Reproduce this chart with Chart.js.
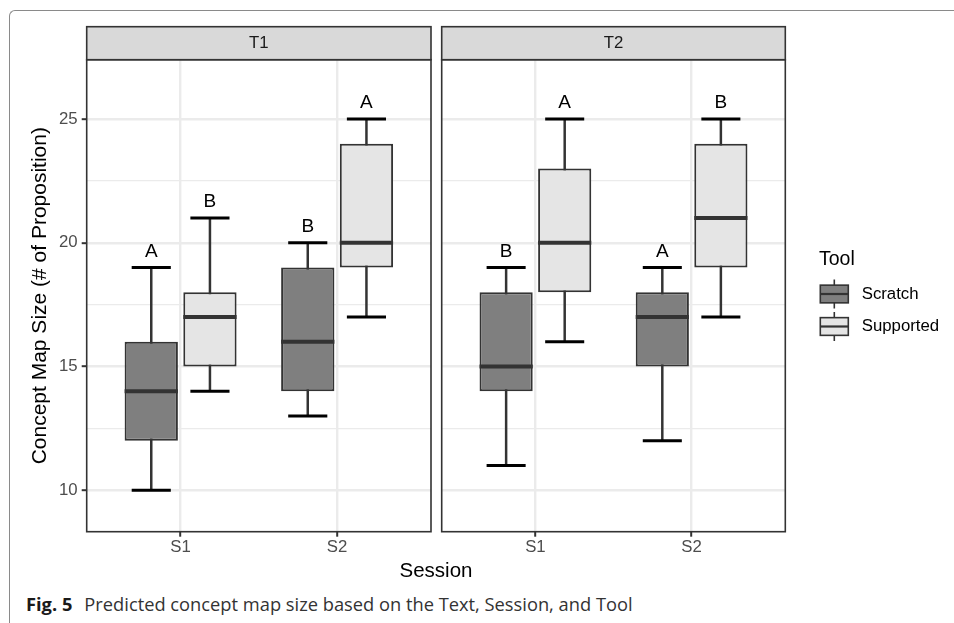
<!DOCTYPE html>
<html>
<head>
<meta charset="utf-8">
<script src="https://cdn.jsdelivr.net/npm/chart.js@4.4.1/dist/chart.umd.min.js"></script>
<style>
  html, body { margin: 0; padding: 0; background: #fff; overflow: hidden; }
  body { width: 954px; height: 623px; position: relative; font-family: "Liberation Sans", Arial, sans-serif; }
  .frame { position: absolute; left: 9px; top: 10px; width: 980px; height: 640px; border-top: 1px solid #8a8a8a; border-left: 1px solid #8a8a8a; border-top-left-radius: 6px; }
  #panelT1 { position: absolute; left: 0; top: 0; }
  #panelT2 { position: absolute; left: 436px; top: 0; }
  .xtitle { position: absolute; left: 336px; width: 200px; top: 560px; text-align: center; font-size: 20.5px; line-height: 20.5px; color: #000; }
  .caption { position: absolute; left: 26px; top: 595px; font-family: "Open Sans", sans-serif; font-size: 18.3px; line-height: 18px; color: #333; white-space: nowrap; }
  .caption b { color: #1a1a1a; margin-right: 12px; }
</style>
</head>
<body>
<div class="frame"></div>
<canvas id="panelT1" width="436" height="590"></canvas>
<canvas id="panelT2" width="518" height="590"></canvas>
<div class="xtitle">Session</div>
<div class="caption"><b>Fig. 5</b>Predicted concept map size based on the Text, Session, and Tool</div>
<script>
const texts = ["T1", "T2"];
const sessions = ["S1", "S2"];
const tools = ["Scratch", "Supported"];
const toolColors = ["#7f7f7f", "#e5e5e5"];

// per session: [min, q1, median, q3, max]
const t1Scratch = [[10, 12, 14, 16, 19], [13, 14, 16, 19, 20]];
const t1Supported = [[14, 15, 17, 18, 21], [17, 19, 20, 24, 25]];
const t2Scratch = [[11, 14, 15, 18, 19], [12, 15, 17, 18, 19]];
const t2Supported = [[16, 18, 20, 23, 25], [17, 19, 21, 24, 25]];

// letters above the boxes
const t1ScratchLetters = ["A", "B"];
const t1SupportedLetters = ["B", "A"];
const t2ScratchLetters = ["B", "A"];
const t2SupportedLetters = ["A", "B"];

const yMajorTicks = [10, 15, 20, 25];
const yMinorTicks = [12.5, 17.5, 22.5];
const yLimits = [8.33, 27.4];

const font = "'Liberation Sans', Arial, sans-serif";
const dodge = [-0.1875, 0.1875];
const capWidth = 0.25;

function boxDataset(i, stats, letters) {
  return {
    label: tools[i],
    data: stats.map((s, j) => ({ x: j + 1 + dodge[i], y: [s[1], s[3]] })),
    stats: stats,
    letters: letters,
    backgroundColor: toolColors[i],
    borderColor: "#333333",
    borderWidth: 2,
    borderSkipped: false,
    grouped: false,
    categoryPercentage: 1,
    barPercentage: 0.908,
  };
}

const boxPlugin = {
  id: "boxParts",
  beforeDatasetsDraw(chart) {
    const { ctx, scales: { x, y } } = chart;
    const half = x.getPixelForValue(1 + capWidth / 2) - x.getPixelForValue(1);
    ctx.save();
    chart.data.datasets.forEach((ds, d) => {
      chart.getDatasetMeta(d).data.forEach((bar, j) => {
        const s = ds.stats[j];
        const cx = bar.x;
        ctx.strokeStyle = "#333333";
        ctx.lineWidth = 2.5;
        ctx.beginPath();
        ctx.moveTo(cx, y.getPixelForValue(s[0]));
        ctx.lineTo(cx, y.getPixelForValue(s[4]));
        ctx.stroke();
        ctx.strokeStyle = "#000000";
        ctx.lineWidth = 3;
        [s[0], s[4]].forEach((v) => {
          const py = y.getPixelForValue(v);
          ctx.beginPath();
          ctx.moveTo(cx - half, py);
          ctx.lineTo(cx + half, py);
          ctx.stroke();
        });
      });
    });
    ctx.restore();
  },
  afterDatasetsDraw(chart, args, opts) {
    const { ctx, chartArea: a, scales: { y } } = chart;
    ctx.save();
    chart.data.datasets.forEach((ds, d) => {
      chart.getDatasetMeta(d).data.forEach((bar, j) => {
        const s = ds.stats[j];
        const { x: cx, width } = bar.getProps(["x", "width"]);
        const my = y.getPixelForValue(s[2]);
        ctx.strokeStyle = "#333333";
        ctx.lineWidth = 4;
        ctx.beginPath();
        ctx.moveTo(cx - width / 2, my);
        ctx.lineTo(cx + width / 2, my);
        ctx.stroke();
        ctx.fillStyle = "#000";
        ctx.font = "19px " + font;
        ctx.textAlign = "center";
        ctx.textBaseline = "alphabetic";
        ctx.fillText(ds.letters[j], cx, y.getPixelForValue(s[4]) - 11);
      });
    });

    // panel border
    ctx.strokeStyle = "#333333";
    ctx.lineWidth = 1.6;
    ctx.strokeRect(a.left, a.top, a.right - a.left, a.bottom - a.top);

    // facet strip
    const stripH = 33;
    ctx.fillStyle = "#d9d9d9";
    ctx.fillRect(a.left, a.top - stripH, a.right - a.left, stripH);
    ctx.strokeRect(a.left, a.top - stripH, a.right - a.left, stripH);
    ctx.fillStyle = "#1a1a1a";
    ctx.font = "16.8px " + font;
    ctx.textAlign = "center";
    ctx.textBaseline = "middle";
    ctx.fillText(opts.strip, (a.left + a.right) / 2, a.top - stripH / 2);

    if (opts.legend) {
      const lx = a.right + 33.7;
      ctx.fillStyle = "#000";
      ctx.textAlign = "left";
      ctx.textBaseline = "alphabetic";
      ctx.font = "19.5px " + font;
      ctx.fillText("Tool", lx, 265);
      tools.forEach((t, i) => {
        const cy = 294 + i * 32.5;
        const kx = lx + 1.3, kw = 28, kh = 17.7;
        ctx.strokeStyle = "#333333";
        ctx.lineWidth = 1.6;
        ctx.beginPath();
        ctx.moveTo(kx + kw / 2, cy - 14.5);
        ctx.lineTo(kx + kw / 2, cy + 14.5);
        ctx.stroke();
        ctx.fillStyle = toolColors[i];
        ctx.fillRect(kx, cy - kh / 2, kw, kh);
        ctx.strokeRect(kx, cy - kh / 2, kw, kh);
        ctx.lineWidth = 2.2;
        ctx.beginPath();
        ctx.moveTo(kx, cy);
        ctx.lineTo(kx + kw, cy);
        ctx.stroke();
        ctx.fillStyle = "#000";
        ctx.font = "16.8px " + font;
        ctx.textBaseline = "middle";
        ctx.fillText(t, lx + 42.7, cy);
        ctx.textBaseline = "alphabetic";
      });
    }
    ctx.restore();
  },
};

function makeChart(id, text, datasets, first) {
  const isMajor = (v) => yMajorTicks.includes(v);
  return new Chart(document.getElementById(id).getContext("2d"), {
    type: "bar",
    data: { datasets: datasets },
    options: {
      responsive: false,
      animation: false,
      devicePixelRatio: 1,
      layout: { padding: { top: 59.7, right: first ? 5 : 168.7, bottom: 28.3, left: 0 } },
      plugins: {
        legend: { display: false },
        tooltip: { enabled: false },
        boxParts: { strip: text, legend: !first },
      },
      scales: {
        x: {
          type: "linear",
          min: 0.4,
          max: 2.6,
          offset: false,
          afterBuildTicks: (sc) => { sc.ticks = sessions.map((s, i) => ({ value: i + 1 })); },
          afterFit: (sc) => { sc.height = 30; },
          border: { display: false },
          grid: { offset: false, color: "#ebebeb", lineWidth: 2.4, tickLength: 5, tickColor: "#333333", tickWidth: 2 },
          ticks: {
            callback: (v, i) => sessions[i],
            color: "#4d4d4d",
            font: { family: font, size: 16.8 },
            padding: 1,
            maxRotation: 0,
            autoSkip: false,
          },
        },
        y: {
          min: yLimits[0],
          max: yLimits[1],
          afterBuildTicks: (sc) => {
            sc.ticks = yMajorTicks.concat(yMinorTicks).sort((a, b) => a - b).map((v) => ({ value: v }));
          },
          afterFit: (sc) => { sc.width = first ? 86.7 : 5.7; },
          border: { display: false },
          grid: {
            color: "#ebebeb",
            lineWidth: (c) => (isMajor(c.tick.value) ? 2.4 : 1.2),
            drawTicks: first,
            tickLength: 5,
            tickColor: (c) => (isMajor(c.tick.value) ? "#333333" : "rgba(0,0,0,0)"),
            tickWidth: 2,
          },
          ticks: {
            display: first,
            callback: (v) => (isMajor(v) ? String(v) : ""),
            color: "#4d4d4d",
            font: { family: font, size: 16.8 },
            padding: 4,
          },
          title: {
            display: first,
            text: "Concept Map Size (# of Proposition)",
            color: "#000",
            font: { family: font, size: 21 },
            padding: { top: 27.4, bottom: 0 },
          },
        },
      },
    },
    plugins: [boxPlugin],
  });
}

const chartT1 = makeChart("panelT1", texts[0], [
  boxDataset(0, t1Scratch, t1ScratchLetters),
  boxDataset(1, t1Supported, t1SupportedLetters),
], true);

const chartT2 = makeChart("panelT2", texts[1], [
  boxDataset(0, t2Scratch, t2ScratchLetters),
  boxDataset(1, t2Supported, t2SupportedLetters),
], false);
</script>
</body>
</html>
